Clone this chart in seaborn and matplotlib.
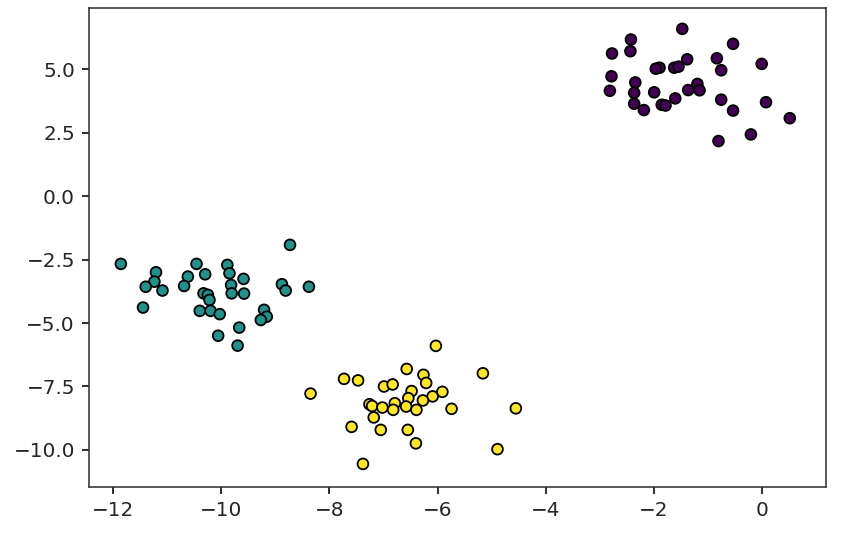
import matplotlib
matplotlib.use("Agg")
import matplotlib.pyplot as plt
import numpy as np
import pandas as pd
import seaborn as sns

# cluster 0 (purple)
x0 = [-1.47, -2.42, -2.43, -2.77, -0.53, -1.38, -0.83, 0.00, -1.89, -1.96, -1.62,
      -1.54, -0.75, -2.78, -2.34, -2.81, -2.36, -1.99, -1.36, -1.19, -1.15, -1.60,
      -1.85, -1.78, -2.36, -2.18, -0.75, 0.08, -0.53, 0.52, -0.20, -0.80]
y0 = [6.59, 6.17, 5.71, 5.62, 6.00, 5.39, 5.43, 5.21, 5.06, 5.02, 5.06,
      5.10, 4.96, 4.72, 4.48, 4.15, 4.07, 4.09, 4.18, 4.42, 4.17, 3.85,
      3.60, 3.57, 3.64, 3.39, 3.80, 3.70, 3.37, 3.07, 2.43, 2.17]

# cluster 1 (teal)
x1 = [-8.73, -11.86, -10.46, -11.21, -9.89, -10.62, -10.30, -9.85, -9.59, -11.24,
      -11.40, -11.09, -10.69, -9.82, -8.88, -8.81, -8.38, -9.81, -9.58, -10.33,
      -10.25, -10.22, -11.45, -10.40, -10.20, -10.03, -9.21, -9.16, -9.27, -9.67,
      -10.06, -9.70]
y1 = [-1.92, -2.67, -2.67, -3.00, -2.71, -3.17, -3.08, -3.04, -3.26, -3.37,
      -3.57, -3.72, -3.54, -3.50, -3.47, -3.72, -3.57, -3.83, -3.84, -3.83,
      -3.89, -4.09, -4.39, -4.52, -4.52, -4.65, -4.48, -4.75, -4.88, -5.18,
      -5.50, -5.89]

# cluster 2 (yellow)
x2 = [-6.03, -6.57, -6.26, -6.21, -7.73, -7.47, -5.16, -6.99, -6.83, -8.35, -6.48,
      -5.91, -6.09, -6.54, -6.27, -7.26, -7.21, -7.02, -6.79, -6.82, -6.58, -6.39,
      -5.74, -4.55, -7.18, -7.59, -7.05, -6.55, -6.40, -4.89, -7.38]
y2 = [-5.90, -6.81, -7.04, -7.36, -7.20, -7.26, -6.98, -7.50, -7.42, -7.78, -7.68,
      -7.71, -7.89, -7.96, -8.05, -8.20, -8.27, -8.33, -8.16, -8.42, -8.29, -8.42,
      -8.38, -8.36, -8.72, -9.09, -9.21, -9.21, -9.74, -9.97, -10.55]

df = pd.DataFrame({
    "x": x0 + x1 + x2,
    "y": y0 + y1 + y2,
    "label": [0] * len(x0) + [1] * len(x1) + [2] * len(x2),
})

fig = plt.figure(figsize=(841 / 144, 533 / 144), dpi=144)
ax = fig.add_axes([89 / 841, 46 / 533, 737 / 841, 478.7 / 533])

sns.scatterplot(df, x="x", y="y", hue="label",
                palette=["#440154", "#21918c", "#fde725"],
                s=29, edgecolor="k", linewidth=0.9, legend=False, ax=ax)

ax.set_xlabel("")
ax.set_ylabel("")
ax.set_xlim(-12.45, 1.19)
ax.set_ylim(-11.46, 7.40)
ax.set_xticks([-12, -10, -8, -6, -4, -2, 0])
ax.set_yticks([-10.0, -7.5, -5.0, -2.5, 0.0, 2.5, 5.0])
ax.tick_params(labelcolor="#262626")
for sp in ax.spines.values():
    sp.set_color("#333333")

plt.savefig("out.png", dpi=144)
